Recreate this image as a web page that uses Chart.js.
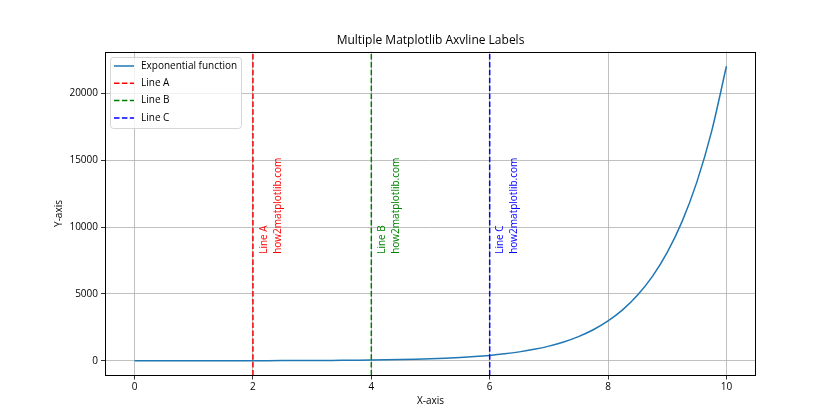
<!DOCTYPE html>
<html>
<head>
<meta charset="utf-8">
<script src="https://cdn.jsdelivr.net/npm/chart.js@4/dist/chart.umd.min.js"></script>
<style>
html,body{margin:0;padding:0;background:#fff;}
#wrap{width:840px;height:420px;position:relative;}
</style>
</head>
<body>
<div id="wrap"><canvas id="c" width="840" height="420"></canvas></div>
<script>
const xValues = [0,0.25,0.5,0.75,1,1.25,1.5,1.75,2,2.25,2.5,2.75,3,3.25,3.5,3.75,4,4.25,4.5,4.75,5,5.25,5.5,5.75,6,6.25,6.5,6.75,7,7.25,7.5,7.75,8,8.25,8.5,8.75,9,9.25,9.5,9.75,10];
const yValues = [1,1.3,1.6,2.1,2.7,3.5,4.5,5.8,7.4,9.5,12,16,20,26,33,43,55,70,90,116,148,191,245,314,403,518,665,854,1097,1408,1808,2321,2981,3827,4915,6311,8103,10405,13360,17154,22026];
const lineXs = [2,4,6];
const lineNames = ['Line A','Line B','Line C'];
const lineColors = ['#ff0000','#008000','#0000ff'];
const labelY = 8000;
const xTicks = [0,2,4,6,8,10];
const yTicks = [0,5000,10000,15000,20000];
const xRange = [-0.5,10.5];
const yRange = [-1101,23127];
const FONT = '"Open Sans", "DejaVu Sans", sans-serif';

const datasets = [{
  label: 'Exponential function',
  data: xValues.map((x,i)=>({x:x,y:yValues[i]})),
  borderColor: '#1f77b4',
  backgroundColor: '#1f77b4',
  borderWidth: 1.5,
  pointRadius: 0,
  cubicInterpolationMode: 'monotone',
  order: 4
}];
lineXs.forEach((lx,i)=>{
  datasets.push({
    label: lineNames[i],
    data: [{x:lx,y:yRange[0]},{x:lx,y:yRange[1]}],
    borderColor: lineColors[i],
    backgroundColor: lineColors[i],
    borderWidth: 1.5,
    borderDash: [5.5,2.4],
    pointRadius: 0,
    order: 3-i
  });
});

const overlay = {
  id: 'overlay',
  afterDraw(chart){
    const ctx = chart.ctx, a = chart.chartArea;
    const xs = chart.scales.x, ys = chart.scales.y;
    ctx.save();
    // frame
    ctx.strokeStyle = '#000'; ctx.lineWidth = 1;
    ctx.strokeRect(Math.round(a.left)+0.5, Math.round(a.top)+0.5, Math.round(a.right-a.left)-1, Math.round(a.bottom-a.top)-1);
    // title
    ctx.fillStyle = '#000';
    ctx.font = '12px ' + FONT;
    ctx.textAlign = 'center'; ctx.textBaseline = 'middle';
    ctx.fillText('Multiple Matplotlib Axvline Labels', (a.left+a.right)/2, 41);
    // axis titles
    ctx.font = '10px ' + FONT;
    ctx.fillText('X-axis', (a.left+a.right)/2, 401);
    ctx.save();
    ctx.translate(59, (a.top+a.bottom)/2);
    ctx.rotate(-Math.PI/2);
    ctx.fillText('Y-axis', 0, 0);
    ctx.restore();
    // vertical labels
    lineXs.forEach((lx,i)=>{
      const px = xs.getPixelForValue(lx+0.1);
      const py = ys.getPixelForValue(labelY);
      ctx.save();
      ctx.translate(px, py);
      ctx.rotate(-Math.PI/2);
      ctx.fillStyle = lineColors[i];
      ctx.font = '10px ' + FONT;
      ctx.textAlign = 'left'; ctx.textBaseline = 'top';
      ctx.fillText(lineNames[i], 0, 0);
      ctx.fillText('how2matplotlib.com', 0, 14);
      ctx.restore();
    });
    // legend
    const lx0 = a.left+5, ly0 = a.top+5, lw = 131, lh = 71;
    ctx.globalAlpha = 0.8;
    ctx.fillStyle = '#fff';
    ctx.strokeStyle = '#cccccc';
    ctx.lineWidth = 1;
    ctx.beginPath();
    ctx.roundRect(Math.round(lx0)+0.5, Math.round(ly0)+0.5, lw, lh, 3);
    ctx.fill(); ctx.stroke();
    ctx.globalAlpha = 1;
    chart.data.datasets.forEach((ds,i)=>{
      const yy = ly0 + 9.5 + i*17.3;
      ctx.strokeStyle = ds.borderColor;
      ctx.lineWidth = 1.5;
      ctx.setLineDash(ds.borderDash || []);
      ctx.beginPath(); ctx.moveTo(lx0+4, yy); ctx.lineTo(lx0+24, yy); ctx.stroke();
      ctx.setLineDash([]);
      ctx.fillStyle = '#000';
      ctx.font = '10px ' + FONT;
      ctx.textAlign = 'left'; ctx.textBaseline = 'middle';
      ctx.fillText(ds.label, lx0+31, yy);
    });
    ctx.restore();
  }
};

new Chart(document.getElementById('c'), {
  type: 'line',
  data: { datasets },
  plugins: [overlay],
  options: {
    responsive: false,
    animation: false,
    devicePixelRatio: 1,
    layout: { padding: { top: 51.5, right: 84, left: 0, bottom: 0 } },
    plugins: { legend: { display: false }, tooltip: { enabled: false }, title: { display: false } },
    scales: {
      x: {
        type: 'linear', min: xRange[0], max: xRange[1],
        afterFit(s){ s.height = 44.5; },
        afterBuildTicks(s){ s.ticks = xTicks.map(v=>({value:v})); },
        grid: { color: '#b0b0b0', lineWidth: 0.8, tickColor: '#000', tickLength: 4, drawTicks: true },
        border: { display: false },
        ticks: { color: '#000', font: { size: 10, family: FONT }, padding: 2, maxRotation: 0, callback: v => String(v) }
      },
      y: {
        type: 'linear', min: yRange[0], max: yRange[1],
        afterFit(s){ s.width = 105; },
        afterBuildTicks(s){ s.ticks = yTicks.map(v=>({value:v})); },
        grid: { color: '#b0b0b0', lineWidth: 0.8, tickColor: '#000', tickLength: 4, drawTicks: true },
        border: { display: false },
        ticks: { color: '#000', font: { size: 10, family: FONT }, padding: 3, callback: v => String(v) }
      }
    }
  }
});
</script>
</body>
</html>
